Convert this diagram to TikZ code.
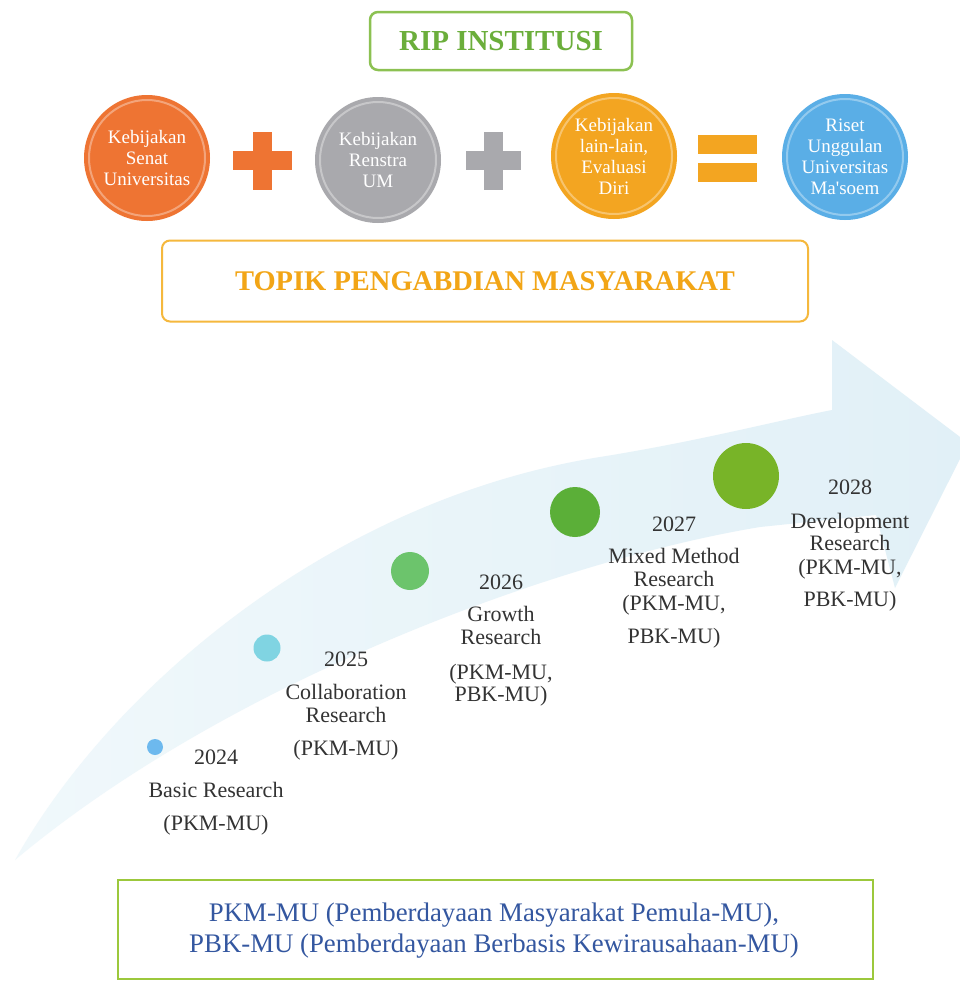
\documentclass[tikz,border=0pt]{standalone}
\usepackage{fontspec}
\setmainfont{Liberation Serif}[Ligatures=TeXOff]
\definecolor{cOr}{HTML}{EE7433}
\definecolor{cGr}{HTML}{A9A9AD}
\definecolor{cYe}{HTML}{F3A521}
\definecolor{cBl}{HTML}{5AAEE6}
\definecolor{gRip}{HTML}{8CC152}
\definecolor{gRipT}{HTML}{6BAE3B}
\definecolor{oTop}{HTML}{F5B83D}
\definecolor{oTopT}{HTML}{F2A516}
\definecolor{arrowL}{HTML}{F0F8FB}
\definecolor{arrowR}{HTML}{E1F0F7}
\definecolor{d24}{HTML}{6DB9EE}
\definecolor{d25}{HTML}{80D4E2}
\definecolor{d26}{HTML}{6CC46C}
\definecolor{d27}{HTML}{5BAF38}
\definecolor{d28}{HTML}{78B428}
\definecolor{txtG}{HTML}{333333}
\definecolor{bBlue}{HTML}{3457A0}
\definecolor{bGreen}{HTML}{9CC83C}
\begin{document}
\begin{tikzpicture}[x=1pt,y=-1pt,
  bigc/.style={circle, minimum size=126pt, inner sep=0pt, text=white, align=center,
    font=\fontsize{19}{21}\selectfont},
  ring/.style={white, opacity=.35, line width=2pt},
  dotc/.style={circle, inner sep=0pt},
  tl/.style={anchor=base, text=txtG, inner sep=0pt, font=\fontsize{22}{22}\selectfont},
]
\useasboundingbox (0,0) rectangle (960,983);
\fill[white] (0,0) rectangle (960,983);

% big curved arrow
\shade[left color=arrowL, right color=arrowR]
  (15,860) .. controls (110,690) and (330,500) .. (600,457)
  .. controls (700,441) and (780,420) .. (832,410)
  -- (832,340) -- (968,443) -- (895,588) -- (876,515)
  -- (760,527) .. controls (560,560) and (230,680) .. cycle;

% top box
\node[draw=gRip, line width=2.5pt, rounded corners=8pt, minimum width=262pt, minimum height=58pt,
  text=gRipT, font=\bfseries\fontsize{29}{29}\selectfont] (rip) at (501,41) {RIP INSTITUSI};

% circles
\node[bigc, fill=cOr] (c1) at (147,158) {Kebijakan\\Senat\\Universitas};
\node[bigc, fill=cGr] (c2) at (378,160) {Kebijakan\\Renstra\\UM};
\node[bigc, fill=cYe] (c3) at (614,156) {Kebijakan\\lain-lain,\\Evaluasi\\Diri};
\node[bigc, fill=cBl] (c4) at (845,157) {Riset\\Unggulan\\Universitas\\Ma'soem};
\foreach \c in {c1,c2,c3,c4} \draw[ring] (\c.center) circle (58);

% operators
\fill[cOr] (253,132) rectangle (272,190);
\fill[cOr] (233,151) rectangle (292,170);
\fill[cGr] (484,132) rectangle (503,190);
\fill[cGr] (466,151) rectangle (521,170);
\fill[cYe] (698,135) rectangle (757,154);
\fill[cYe] (698,163) rectangle (757,182);

% topic box
\node[draw=oTop, line width=2pt, rounded corners=8pt, minimum width=646pt, minimum height=81pt,
  text=oTopT, font=\bfseries\fontsize{28.5}{28.5}\selectfont] (topik) at (485,281) {TOPIK PENGABDIAN MASYARAKAT};

% dots
\node[dotc, fill=d24, minimum size=16pt] (p24) at (155,747) {};
\node[dotc, fill=d25, minimum size=27pt] (p25) at (267,648) {};
\node[dotc, fill=d26, minimum size=38pt] (p26) at (410,571) {};
\node[dotc, fill=d27, minimum size=50pt] (p27) at (575,512) {};
\node[dotc, fill=d28, minimum size=66pt] (p28) at (746,476) {};

% labels 2024
\node[tl] (a1) at (216,764) {2024};
\node[tl] (a2) at (216,797) {Basic Research};
\node[tl] (a3) at (216,830) {(PKM-MU)};
% 2025
\node[tl] (b1) at (346,666) {2025};
\node[tl] (b2) at (346,699) {Collaboration};
\node[tl] (b3) at (346,722) {Research};
\node[tl] (b4) at (346,755) {(PKM-MU)};
% 2026
\node[tl] (e1) at (501,589) {2026};
\node[tl] (e2) at (501,621) {Growth};
\node[tl] (e3) at (501,644) {Research};
\node[tl] (e4) at (501,679) {(PKM-MU,};
\node[tl] (e5) at (501,701) {PBK-MU)};
% 2027
\node[tl] (f1) at (674,531) {2027};
\node[tl] (f2) at (674,563) {Mixed Method};
\node[tl] (f3) at (674,586) {Research};
\node[tl] (f4) at (674,610) {(PKM-MU,};
\node[tl] (f5) at (674,643) {PBK-MU)};
% 2028
\node[tl] (g1) at (850,494) {2028};
\node[tl] (g2) at (850,528) {Development};
\node[tl] (g3) at (850,550) {Research};
\node[tl] (g4) at (850,574) {(PKM-MU,};
\node[tl] (g5) at (850,606) {PBK-MU)};

% bottom box
\draw[bGreen, line width=2pt] (118,880) rectangle (873,979);
\node[text=bBlue, align=center, font=\fontsize{26.8}{31}\selectfont] (legend) at (494,931)
  {PKM-MU (Pemberdayaan Masyarakat Pemula-MU),\\PBK-MU (Pemberdayaan Berbasis Kewirausahaan-MU)};
\end{tikzpicture}
\end{document}
